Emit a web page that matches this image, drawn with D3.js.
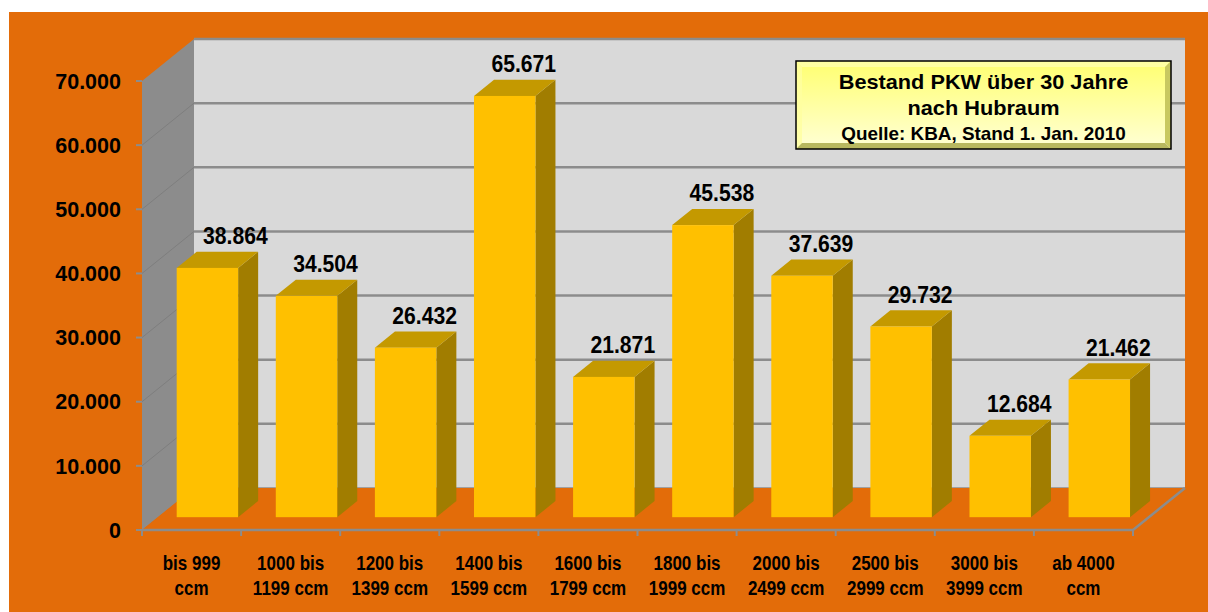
<!DOCTYPE html>
<html><head><meta charset="utf-8">
<script src="https://cdn.jsdelivr.net/npm/d3@7/dist/d3.min.js"></script>
<style>html,body{margin:0;padding:0;background:#fff;}svg{display:block;}text{font-family:"Liberation Sans",Arial,sans-serif;font-weight:bold;fill:#000;}</style>
</head><body>
<svg id="c" width="1208" height="612"></svg>
<script>
const categoriesLine1 = ["bis 999","1000 bis","1200 bis","1400 bis","1600 bis","1800 bis","2000 bis","2500 bis","3000 bis","ab 4000"];
const categoriesLine2 = ["ccm","1199 ccm","1399 ccm","1599 ccm","1799 ccm","1999 ccm","2499 ccm","2999 ccm","3999 ccm","ccm"];
const values = [38864,34504,26432,65671,21871,45538,37639,29732,12684,21462];
const yTicks = [0,10000,20000,30000,40000,50000,60000,70000];
const titleLines = ["Bestand PKW über 30 Jahre","nach Hubraum"];
const sourceLine = "Quelle: KBA, Stand 1. Jan. 2010";

const loc = d3.formatLocale({decimal:",",thousands:".",grouping:[3],currency:["","€"]});
const fmt = loc.format(",d");

const svg = d3.select("#c");
const ORANGE = "#E36C09";
svg.append("rect").attr("x",9).attr("y",12).attr("width",1199).attr("height",600).attr("fill",ORANGE);

const x = d3.scaleBand().domain(d3.range(values.length)).range([142,1133]);
const y = d3.scaleLinear().domain([0,70000]).range([530,81]);
const DX = 52, DY = -42;
const bw = x.bandwidth();
const barW = bw*0.62;
const f0 = 0.305, f1 = 0.69;

const x0 = x.range()[0], x1 = x.range()[1];
const yTop = y(70000), yBot = y(0);

function stext(sel, tx, ty, sx, size, txt){
  return sel.append("text").attr("transform",`translate(${tx},${ty}) scale(${sx},1)`)
    .attr("text-anchor","middle").style("font-size",size+"px").text(txt);
}

// back wall
svg.append("rect").attr("x",x0+DX).attr("y",yTop+DY).attr("width",x1-x0).attr("height",yBot-yTop).attr("fill","#D9D9D9");
svg.selectAll(".bg").data(yTicks).join("line")
  .attr("x1",x0+DX).attr("x2",x1+DX).attr("y1",d=>y(d)+DY).attr("y2",d=>y(d)+DY)
  .attr("stroke","#8C8C8C").attr("stroke-width",d=>d===0?1.5:2.5);
// left wall
svg.append("polygon").attr("points",[[x0,yTop],[x0+DX,yTop+DY],[x0+DX,yBot+DY],[x0,yBot]].join(" ")).attr("fill","#8C8C8C");
svg.selectAll(".lg").data(yTicks.filter(d=>d>0&&d<70000)).join("line")
  .attr("x1",x0).attr("x2",x0+DX).attr("y1",d=>y(d)).attr("y2",d=>y(d)+DY)
  .attr("stroke","#7E7E7E").attr("stroke-width",1);
// floor
svg.append("polygon").attr("points",[[x0,yBot],[x1,yBot],[x1+DX,yBot+DY],[x0+DX,yBot+DY]].join(" ")).attr("fill",ORANGE);
svg.append("polyline").attr("points",[[x0,yBot],[x1,yBot],[x1+DX,yBot+DY]].join(" ")).attr("fill","none").attr("stroke","#8C8C8C").attr("stroke-width",2.5);
// y ticks
svg.selectAll(".yt").data(yTicks).join("line")
  .attr("x1",x0-6).attr("x2",x0).attr("y1",d=>y(d)).attr("y2",d=>y(d)).attr("stroke","#8C8C8C").attr("stroke-width",2);
svg.selectAll(".yl").data(yTicks).join("text")
  .attr("x",121).attr("y",d=>y(d)).attr("dy","0.36em").attr("text-anchor","end")
  .style("font-size","21.5px").text(d=>fmt(d));
// x ticks
svg.selectAll(".xt").data(d3.range(values.length+1)).join("line")
  .attr("x1",d=>x0+d*bw).attr("x2",d=>x0+d*bw).attr("y1",yBot).attr("y2",yBot+6).attr("stroke","#8C8C8C").attr("stroke-width",2);

// bars
const g = svg.append("g");
values.forEach((v,i)=>{
  const fl = x(i)+(bw-barW)/2 + f0*DX;
  const fr = fl+barW;
  const ft = y(v)+f0*DY;
  const fb = y(0)+f0*DY;
  const ddx = (f1-f0)*DX, ddy = (f1-f0)*DY;
  g.append("polygon").attr("points",[[fr,ft],[fr+ddx,ft+ddy],[fr+ddx,fb+ddy],[fr,fb]].join(" ")).attr("fill","#A17D00");
  g.append("polygon").attr("points",[[fl,ft],[fl+ddx,ft+ddy],[fr+ddx,ft+ddy],[fr,ft]].join(" ")).attr("fill","#C49900");
  g.append("rect").attr("x",fl).attr("y",ft).attr("width",barW).attr("height",fb-ft).attr("fill","#FFC000");
  let cx = fl+barW/2+19;
  const t = stext(g, cx, ft+ddy-7.5, 0.9, 23.5, fmt(v));
  const w = t.node().getComputedTextLength()*0.9;
  const minLeft = x0+DX+9;
  if (cx - w/2 < minLeft) {
    cx = minLeft + w/2;
    t.attr("transform",`translate(${cx},${ft+ddy-7.5}) scale(0.9,1)`);
  }
});

// x labels
categoriesLine1.forEach((d,i)=>stext(svg, x(i)+bw/2, 570, 0.85, 20, d));
categoriesLine2.forEach((d,i)=>stext(svg, x(i)+bw/2, 595, 0.85, 20, d));

// legend box
const defs = svg.append("defs");
const lg = defs.append("linearGradient").attr("id","lgY").attr("x1",0).attr("y1",0).attr("x2",0).attr("y2",1);
lg.append("stop").attr("offset","0%").attr("stop-color","#FFFF70");
lg.append("stop").attr("offset","100%").attr("stop-color","#FFFFD6");
const bx=796, by=61, bwid=375, bh=88, bv=6;
svg.append("rect").attr("x",bx).attr("y",by).attr("width",bwid).attr("height",bh).attr("fill","url(#lgY)");
svg.append("polygon").attr("points",[[bx,by],[bx+bwid,by],[bx+bwid-bv,by+bv],[bx+bv,by+bv]].join(" ")).attr("fill","#FFFFB0").attr("opacity",0.8);
svg.append("polygon").attr("points",[[bx,by],[bx+bv,by+bv],[bx+bv,by+bh-bv],[bx,by+bh]].join(" ")).attr("fill","#FFFFA0").attr("opacity",0.8);
svg.append("polygon").attr("points",[[bx+bwid,by],[bx+bwid,by+bh],[bx+bwid-bv,by+bh-bv],[bx+bwid-bv,by+bv]].join(" ")).attr("fill","#C8C860");
svg.append("polygon").attr("points",[[bx,by+bh],[bx+bwid,by+bh],[bx+bwid-bv,by+bh-bv],[bx+bv,by+bh-bv]].join(" ")).attr("fill","#B8B860");
svg.append("rect").attr("x",bx).attr("y",by).attr("width",bwid).attr("height",bh).attr("fill","none").attr("stroke","#000").attr("stroke-width",1.5);
titleLines.forEach((d,i)=>stext(svg, bx+bwid/2, 89+i*25.5, 1.06, 20.5, d));
stext(svg, bx+bwid/2, 140, 1.05, 18, sourceLine);
</script>
</body></html>
